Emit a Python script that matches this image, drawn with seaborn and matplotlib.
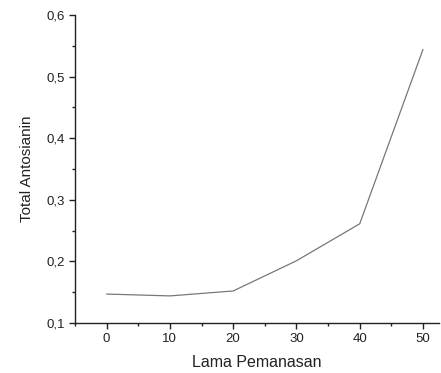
import matplotlib
matplotlib.use("Agg")
import numpy as np
import pandas as pd
import seaborn as sns
import matplotlib.pyplot as plt
from matplotlib.ticker import MultipleLocator, FuncFormatter

# data
lama_pemanasan = [0, 10, 20, 30, 40, 50]
total_antosianin = [0.147, 0.144, 0.152, 0.201, 0.261, 0.544]

sns.set_style("ticks")
plt.rcParams['font.family'] = ['Liberation Sans', 'DejaVu Sans']

df = pd.DataFrame({'Lama Pemanasan': lama_pemanasan,
                   'Total Antosianin': total_antosianin})

fig = plt.figure(figsize=(4.41, 3.73), dpi=100)
ax = fig.add_axes([0.170, 0.134, 0.825, 0.826])
sns.lineplot(data=df, x='Lama Pemanasan', y='Total Antosianin', ax=ax,
             color='#777777', linewidth=0.9)

ax.set_xlim(-5, 52.5)
ax.set_ylim(0.1, 0.6)
ax.xaxis.set_major_locator(MultipleLocator(10))
ax.xaxis.set_minor_locator(MultipleLocator(5))
ax.yaxis.set_major_locator(MultipleLocator(0.1))
ax.yaxis.set_minor_locator(MultipleLocator(0.05))
ax.yaxis.set_major_formatter(FuncFormatter(lambda v, p: f"{v:.1f}".replace('.', ',')))

ax.tick_params(which='major', direction='out', length=4, width=1,
               labelsize=9.5, colors='#222222')
ax.tick_params(which='minor', direction='out', length=2.5, width=1, colors='#222222')
for s in ['left', 'bottom']:
    ax.spines[s].set_color('#222222')
    ax.spines[s].set_linewidth(1)
sns.despine(ax=ax)

ax.set_xlabel('Lama Pemanasan', fontsize=11.5, color='#222222', labelpad=7)
ax.set_ylabel('Total Antosianin', fontsize=11, color='#222222', labelpad=9)

fig.savefig('out.png', dpi=100)
